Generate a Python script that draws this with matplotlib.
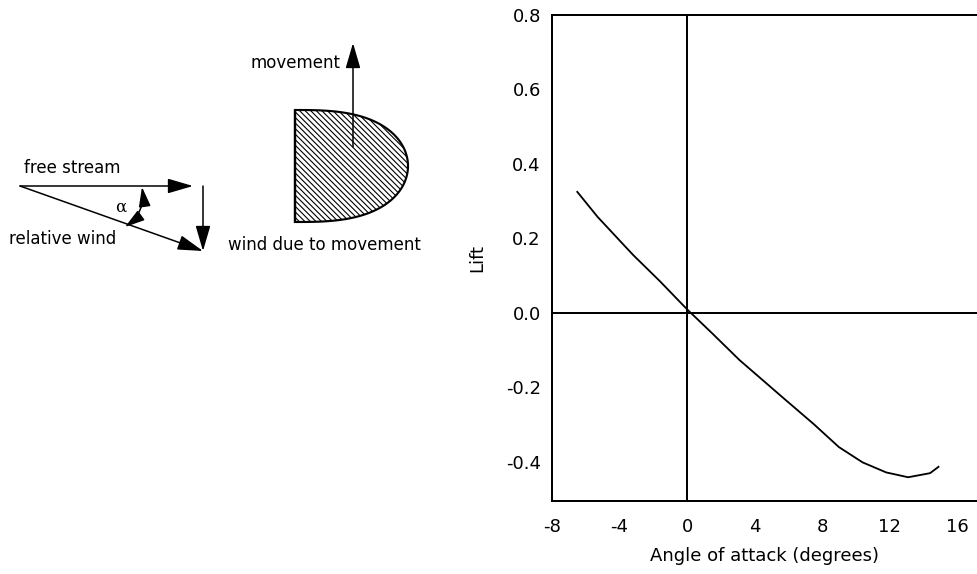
import numpy as np
import matplotlib
matplotlib.use('Agg')
import matplotlib.pyplot as plt
from matplotlib.patches import FancyArrowPatch, Polygon

# ── DATA ─────────────────────────────────────────────
angle = [-6.5, -5.3, -3.2, -1.6, -0.6, 0.0, 1.5, 3.1, 5.7, 7.5, 9.0, 10.4, 11.8, 13.1, 14.4, 14.9]
lift = [0.325, 0.258, 0.156, 0.085, 0.038, 0.010, -0.055, -0.126, -0.228, -0.298, -0.360, -0.401, -0.428, -0.441, -0.430, -0.413]
x_ticks = [-8, -4, 0, 4, 8, 12, 16]
y_ticks = [-0.4, -0.2, 0.0, 0.2, 0.4, 0.6, 0.8]

FONT = 'DejaVu Sans'
LW = 1.1

fig = plt.figure(figsize=(9.78, 5.74), dpi=100)
fig.patch.set_facecolor('white')
plt.rcParams['hatch.linewidth'] = 0.8

# ── DIAGRAM (pixel coordinates) ──────────────────────
dax = fig.add_axes([0, 0, 1, 1])
dax.set_xlim(0, 978)
dax.set_ylim(574, 0)
dax.axis('off')

arrow_kw = dict(arrowstyle='-|>,head_length=1.3,head_width=0.38',
                mutation_scale=12, color='black', lw=LW, shrinkA=0, shrinkB=0)

# free stream
dax.add_patch(FancyArrowPatch((20, 186), (193, 186), **arrow_kw))
# relative wind
dax.add_patch(FancyArrowPatch((20, 186), (203, 251), **arrow_kw))
# wind due to movement (vertical component)
dax.add_patch(FancyArrowPatch((203, 186), (203, 251), **arrow_kw))
# angle arc
dax.add_patch(FancyArrowPatch((125, 227), (142, 187),
                              arrowstyle='<|-|>,head_length=1.0,head_width=0.3',
                              mutation_scale=12, color='black', lw=LW,
                              shrinkA=0, shrinkB=0,
                              connectionstyle='arc3,rad=0.3'))
dax.text(121, 207, 'α', fontsize=12, ha='center', va='center', family='DejaVu Serif')
dax.text(24, 168, 'free stream', fontsize=12, ha='left', va='center', family=FONT)
dax.text(9, 239, 'relative wind', fontsize=12, ha='left', va='center', family=FONT)

# airfoil section
t = np.linspace(-np.pi / 2, np.pi / 2, 80)
cx, cy = 295, 166
rx, ry = 113, 56
ys = cy + ry * np.sin(t)
xs = cx + rx * np.cos(t) ** 0.7
pts = np.column_stack([np.r_[295, xs, 295], np.r_[223, ys, 110]])
dax.add_patch(Polygon(pts, closed=True, facecolor='white', edgecolor='black',
                      lw=LW * 1.4, hatch='\\\\\\\\\\\\'))
dax.add_patch(FancyArrowPatch((353, 147), (353, 43), **arrow_kw))
dax.text(341, 63, 'movement', fontsize=12, ha='right', va='center', family=FONT)
dax.text(228, 245, 'wind due to movement', fontsize=12, ha='left', va='center', family=FONT)

# ── LIFT CHART ───────────────────────────────────────
ax = fig.add_axes([0.5644, 0.127, 0.4356, 0.847])
ax.plot(angle, lift, color='black', lw=LW * 1.2)
ax.axhline(0, color='black', lw=LW * 1.3)
ax.axvline(0, color='black', lw=LW * 1.3)
ax.set_xlim(-8, 17.24)
ax.set_ylim(-0.505, 0.8)
ax.set_xticks(x_ticks)
ax.set_xticklabels([str(v) for v in x_ticks], fontsize=13, family=FONT)
ax.set_yticks(y_ticks)
ax.set_yticklabels([f'{v:.1f}' for v in y_ticks], fontsize=13, family=FONT)
ax.tick_params(axis='x', length=0, pad=12)
ax.tick_params(axis='y', length=0, pad=8)
ax.spines['right'].set_visible(False)
for s in ['left', 'top', 'bottom']:
    ax.spines[s].set_linewidth(LW * 1.3)
ax.set_xlabel('Angle of attack (degrees)', fontsize=13, family=FONT, labelpad=8)
ax.set_ylabel('Lift', fontsize=13, family=FONT, labelpad=14)

fig.savefig('out.png', dpi=100, facecolor='white')
